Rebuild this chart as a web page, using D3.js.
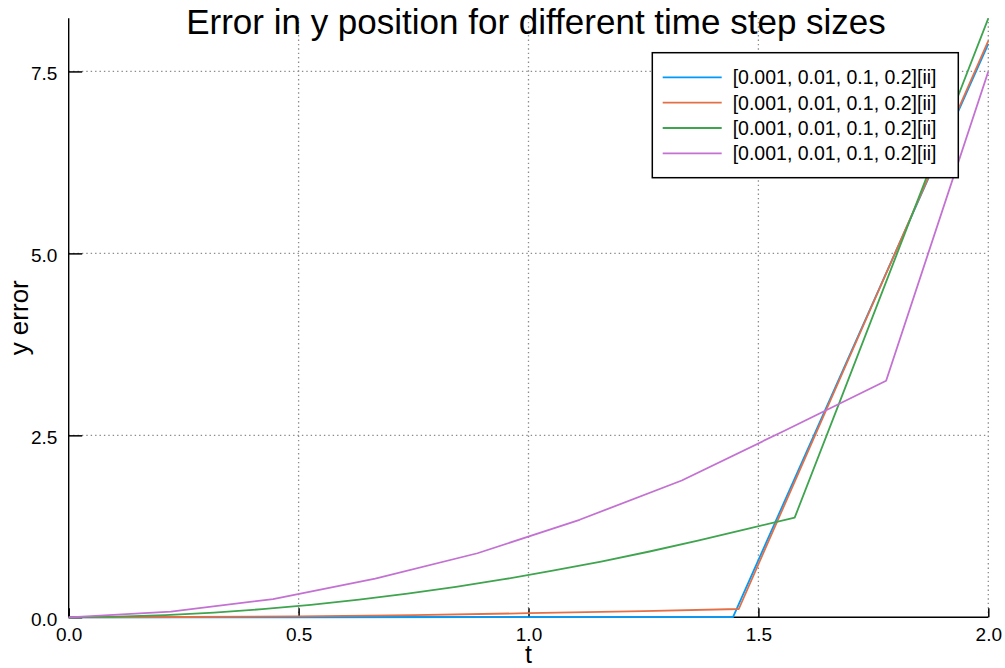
<!DOCTYPE html>
<html>
<head>
<meta charset="utf-8">
<script src="https://cdn.jsdelivr.net/npm/d3@7"></script>
<style>
  html, body { margin: 0; padding: 0; background: #fff; }
  svg { display: block; font-family: "Liberation Sans", Arial, Helvetica, sans-serif; }
</style>
</head>
<body>
<svg id="chart" width="1005" height="668"></svg>
<script>
// Error in y for each time step size (t, error pairs per run)
const tBlue   = [0, 0.5, 1.0, 1.4448, 2.0];
const yBlue   = [0, 0.0005, 0.002, 0.004, 7.88];

const tOrange = [0, 0.25, 0.5, 0.75, 1.0, 1.25, 1.4573, 2.0];
const yOrange = [0, 0.004, 0.014, 0.031, 0.056, 0.085, 0.114, 7.92];

const tGreen  = [0, 0.1053, 0.2105, 0.3158, 0.4211, 0.5263, 0.6316, 0.7368, 0.8421, 0.9474,
                 1.0526, 1.1579, 1.2632, 1.3684, 1.4737, 1.5789, 1.6842, 1.7895, 1.8947, 2.0];
const yGreen  = [0, 0.008, 0.030, 0.065, 0.112, 0.171, 0.242, 0.325, 0.418, 0.523,
                 0.640, 0.766, 0.904, 1.052, 1.212, 1.37, 3.08, 4.80, 6.52, 8.23];

const tPurple = [0, 0.2222, 0.4444, 0.6667, 0.8889, 1.1111, 1.3333, 1.5556, 1.7778, 2.0];
const yPurple = [0, 0.077, 0.25, 0.53, 0.88, 1.34, 1.88, 2.56, 3.25, 7.50];

const seriesNames = ["[0.001, 0.01, 0.1, 0.2][ii]", "[0.001, 0.01, 0.1, 0.2][ii]",
                     "[0.001, 0.01, 0.1, 0.2][ii]", "[0.001, 0.01, 0.1, 0.2][ii]"];
const seriesColors = ["#009AFA", "#E36F47", "#3EA44E", "#C371D2"];

const xTicks = [0, 0.5, 1.0, 1.5, 2.0];
const yTicks = [0, 2.5, 5.0, 7.5];

const titleText = "Error in y position for different time step sizes";
const xLabel = "t";
const yLabel = "y error";

const series = [
  { t: tBlue,   y: yBlue },
  { t: tOrange, y: yOrange },
  { t: tGreen,  y: yGreen },
  { t: tPurple, y: yPurple }
].map((s, i) => ({
  name: seriesNames[i],
  color: seriesColors[i],
  points: s.t.map((t, j) => [t, s.y[j]])
}));

const svg = d3.select("#chart");
const plotLeft = 68.7, plotRight = 988.3, plotTop = 18.3, plotBottom = 617.3;

const yMax = d3.max(series, s => d3.max(s.points, p => p[1]));
const x = d3.scaleLinear().domain([0, 2]).range([plotLeft, plotRight]);
const y = d3.scaleLinear().domain([0, yMax]).range([plotBottom, plotTop]);

// dotted grid
const grid = svg.append("g")
  .attr("stroke", "#8c8c8c")
  .attr("stroke-width", 1.3)
  .attr("stroke-dasharray", "1.4,3")
  .attr("fill", "none");
grid.selectAll(".gx").data(xTicks.filter(d => d > 0)).join("line")
  .attr("x1", d => x(d)).attr("x2", d => x(d))
  .attr("y1", plotBottom).attr("y2", plotTop);
grid.selectAll(".gy").data(yTicks.filter(d => d > 0)).join("line")
  .attr("x1", plotLeft).attr("x2", plotRight)
  .attr("y1", d => y(d)).attr("y2", d => y(d));

// axes
const xAxis = d3.axisBottom(x).tickValues(xTicks).tickFormat(d3.format(".1f"))
  .tickSizeInner(-9).tickSizeOuter(0).tickPadding(10);
const yAxis = d3.axisLeft(y).tickValues(yTicks).tickFormat(d3.format(".1f"))
  .tickSizeInner(-13.5).tickSizeOuter(0).tickPadding(11.4);

const gx = svg.append("g").attr("transform", `translate(0,${plotBottom})`).call(xAxis);
const gy = svg.append("g").attr("transform", `translate(${plotLeft},0)`).call(yAxis);
[gx, gy].forEach(g => {
  g.select(".domain").remove();
  g.selectAll(".tick line").attr("stroke", "#000").attr("stroke-width", 1.5);
  g.selectAll(".tick text").attr("fill", "#000")
    .style("font-family", "'Liberation Sans', Arial, sans-serif")
    .style("font-size", "19px");
});
gy.selectAll(".tick text").attr("dy", "0.43em");

// spines
svg.append("line").attr("x1", plotLeft).attr("x2", plotLeft).attr("y1", plotBottom).attr("y2", plotTop)
  .attr("stroke", "#000").attr("stroke-width", 1.4);
svg.append("line").attr("x1", plotLeft).attr("x2", plotRight).attr("y1", plotBottom).attr("y2", plotBottom)
  .attr("stroke", "#000").attr("stroke-width", 1.4);

// series lines
const line = d3.line().x(d => x(d[0])).y(d => y(d[1]));
svg.append("g").selectAll("path").data(series).join("path")
  .attr("d", d => line(d.points))
  .attr("fill", "none")
  .attr("stroke", d => d.color)
  .attr("stroke-width", 1.8)
  .attr("stroke-linejoin", "round");

// title and axis labels
svg.append("text").attr("x", 536).attr("y", 34)
  .attr("text-anchor", "middle").style("font-size", "35px").attr("fill", "#000")
  .text(titleText);
svg.append("text").attr("x", (plotLeft + plotRight) / 2).attr("y", 663)
  .attr("text-anchor", "middle").style("font-size", "25px").attr("fill", "#000")
  .text(xLabel);
svg.append("text")
  .attr("transform", `translate(27.5,${(plotTop + plotBottom) / 2}) rotate(-90)`)
  .attr("text-anchor", "middle").style("font-size", "26px").attr("fill", "#000")
  .text(yLabel);

// legend
const lg = svg.append("g");
lg.append("rect").attr("x", 652.3).attr("y", 52.7).attr("width", 306).attr("height", 125)
  .attr("fill", "#fff").attr("stroke", "#000").attr("stroke-width", 1.5);
const rows = lg.selectAll("g.row").data(series).join("g")
  .attr("transform", (d, i) => `translate(0,${77.3 + i * 25.35})`);
rows.append("line").attr("x1", 662.7).attr("x2", 721.7).attr("y1", 0).attr("y2", 0)
  .attr("stroke", d => d.color).attr("stroke-width", 1.8);
rows.append("text").attr("x", 732.7).attr("y", 0).attr("dy", "0.36em")
  .style("font-size", "19.5px").attr("fill", "#000")
  .text(d => d.name);
</script>
</body>
</html>
